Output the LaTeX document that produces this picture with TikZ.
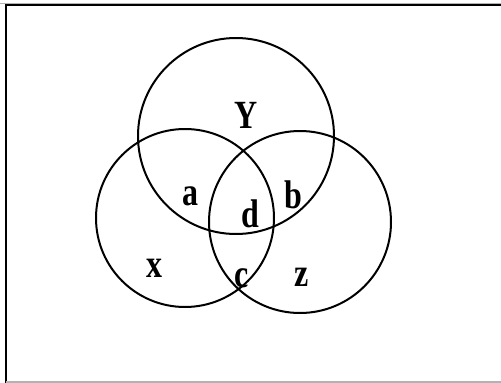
\documentclass[tikz,border=0pt]{standalone}
\usepackage{fontspec}
\newfontfamily\lblfont{Liberation Serif}
\begin{document}
\begin{tikzpicture}[x=1pt,y=-1pt,
  ring/.style={draw=black,line width=2pt},
  lbl/.style={font=\lblfont\bfseries\fontsize{40}{40}\selectfont,inner sep=0pt,anchor=base,xscale=0.8}]
\useasboundingbox (0,0) rectangle (501,383);
\fill[white] (0,0) rectangle (501,383);
% frame
\draw[gray!60,line width=1pt] (0,3.5) -- (501,3.5);
\draw[black,line width=2pt] (5,5) -- (501,5);
\draw[black,line width=2.5pt] (6,4) -- (6,383);
\draw[gray!60,line width=1.5pt] (6,382) -- (501,382);
% circles
\node[ring,circle,minimum size=196pt,inner sep=0pt] (Yc) at (236,136) {};
\node[ring,circle,minimum size=178pt,inner sep=0pt] (Xc) at (185,218) {};
\node[ring,circle,minimum size=182pt,inner sep=0pt] (Zc) at (300,222) {};
% labels
\node[lbl] (ly) at (246,128) {Y};
\node[lbl] (la) at (190,205) {a};
\node[lbl] (lb) at (293,208) {b};
\node[lbl] (ld) at (250,227) {d};
\node[lbl] (lx) at (154,277) {x};
\node[lbl] (lc) at (242,287) {c};
\node[lbl] (lz) at (302,286) {z};
\end{tikzpicture}
\end{document}
